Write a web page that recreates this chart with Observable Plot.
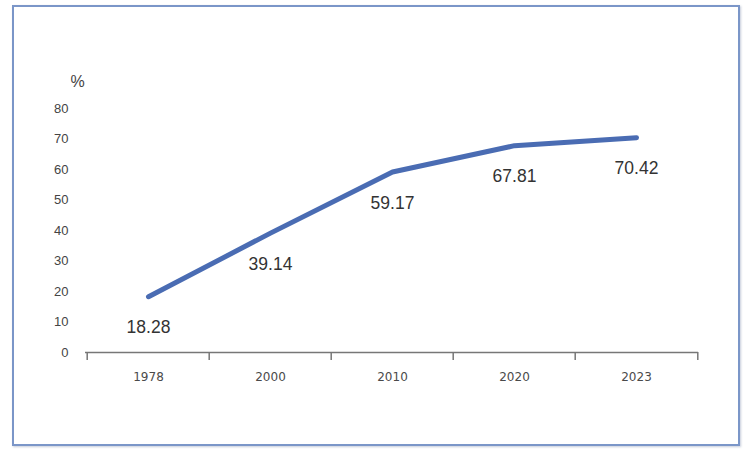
<!DOCTYPE html>
<html>
<head>
<meta charset="utf-8">
<script src="https://cdn.jsdelivr.net/npm/d3@7"></script>
<script src="https://cdn.jsdelivr.net/npm/@observablehq/plot@0.6"></script>
<style>
  html, body { margin: 0; padding: 0; background: #fff; }
  #wrap { position: relative; width: 755px; height: 461px; overflow: hidden; }
  #border { position: absolute; left: 12px; top: 5px; width: 724px; height: 437px;
            border: 2px solid #7b96c8; box-shadow: 1px 1px 2px rgba(90,110,150,0.35); pointer-events: none; }
</style>
</head>
<body>
<div id="wrap"><div id="border"></div></div>
<script>
const years = ["1978", "2000", "2010", "2020", "2023"];
const rates = [18.28, 39.14, 59.17, 67.81, 70.42];
const yTicks = [0, 10, 20, 30, 40, 50, 60, 70, 80];

const data = years.map((year, i) => ({year, rate: rates[i]}));

const W = 755, H = 461;
const mL = 85, mR = 57, mT = 108, mB = 109;
const bw = (W - mL - mR) / years.length;

const chart = Plot.plot({
  width: W,
  height: H,
  marginLeft: mL,
  marginRight: mR,
  marginTop: mT,
  marginBottom: mB,
  style: {fontFamily: "Liberation Sans, Arial, sans-serif", background: "transparent"},
  x: {type: "band", domain: years, padding: 0},
  y: {domain: [0, 80]},
  marks: [
    Plot.axisY({ticks: yTicks, tickSize: 0, tickPadding: 17, label: null,
      fontSize: 13, fill: "#444"}),
    Plot.axisX({tickSize: 0, tickPadding: 20, label: null, fontSize: 12,
      fill: "#4a4a4a", fontFamily: "DejaVu Sans, sans-serif", style: {letterSpacing: "1.5px"}}),
    Plot.ruleY([0], {stroke: "#777", strokeWidth: 1.5}),
    Plot.ruleX(years, {x: d => d, y1: 0, y2: 0, insetBottom: -8, dx: -bw / 2, stroke: "#777", strokeWidth: 1.5}),
    Plot.ruleX(years.slice(-1), {x: d => d, y1: 0, y2: 0, insetBottom: -8, dx: bw / 2, stroke: "#777", strokeWidth: 1.5}),
    Plot.line(data, {x: "year", y: "rate", stroke: "#4a6cb3", strokeWidth: 5}),
    Plot.text(data, {x: "year", y: "rate", text: d => d.rate.toFixed(2), dy: 31,
      fontSize: 17.5, fill: "#333"}),
    Plot.text(["%"], {frameAnchor: "top-left", dx: -8, dy: -22, text: d => d,
      fontSize: 16, fill: "#444", textAnchor: "middle", lineAnchor: "bottom"})
  ]
});
document.getElementById("wrap").prepend(chart);
</script>
</body>
</html>
